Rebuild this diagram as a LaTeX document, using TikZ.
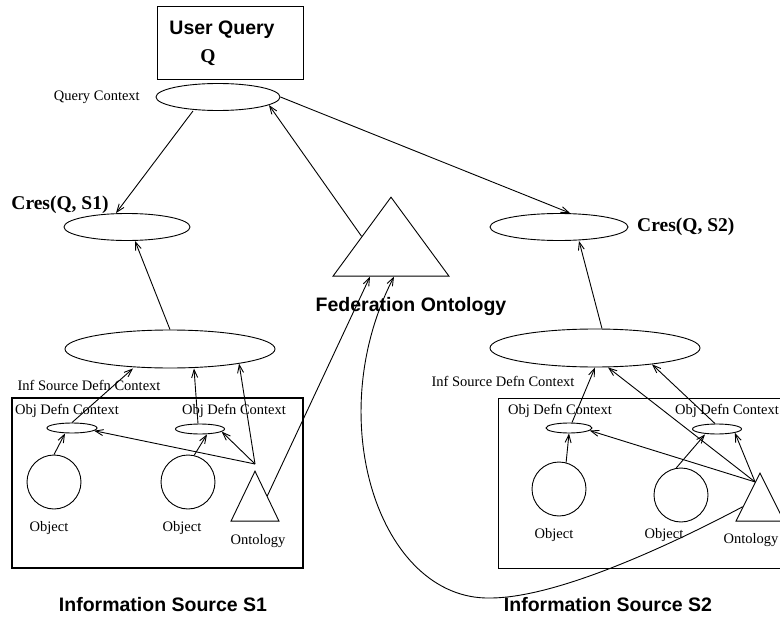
\documentclass[tikz,border=0pt]{standalone}
\usepackage{fontspec}
\setmainfont{Liberation Serif}
\setsansfont{Liberation Sans}
\usetikzlibrary{shapes.geometric,arrows.meta,positioning,calc}

\begin{document}
\begin{tikzpicture}[
    x=1pt, y=-1pt,
    line width=0.9pt,
    ctx/.style   = {draw, ellipse, inner sep=0pt},
    obj/.style   = {draw, circle, minimum size=54pt, inner sep=0pt},
    onto/.style  = {draw, isosceles triangle, shape border rotate=90,
                    isosceles triangle stretches, inner sep=0pt, anchor=apex},
    lbl/.style   = {font=\fontsize{14.5}{16}\selectfont},
    cres/.style  = {font=\fontsize{19.5}{22}\selectfont\bfseries},
    big/.style   = {font=\fontsize{19.5}{22}\selectfont\sffamily\bfseries},
    arr/.style   = {-{Straight Barb[length=8pt,width=6pt]}}
]
\useasboundingbox (0,0) rectangle (780,618);

% query side
\node (uq) [draw, minimum width=146pt, minimum height=73pt] at (230,42.5) {};
\node (uqtxt) [big] at (222,30) {User Query};
\node (uqq) [cres] at (208,58) {Q};
\node (qc) [ctx, minimum width=124pt, minimum height=27pt] at (218,97) {};
\node (qclab) [lbl, left=12pt of qc] {Query Context};
\node (cs1) [ctx, minimum width=126pt, minimum height=27pt] at (127,227) {};
\node (cs1lab) [cres] at (60,205) {Cres(Q, S1)};
\node (cs2) [ctx, minimum width=138pt, minimum height=27pt] at (559,227) {};
\node (cs2lab) [cres, right=5pt of cs2] {Cres(Q, S2)};

% federation
\node (fed) [onto, minimum width=116pt, minimum height=79pt] at (391,196) {};
\node (fedlab) [big] at (411,306) {Federation Ontology};

% source S1
\node (src1) [draw, line width=1.6pt, minimum width=291pt, minimum height=170pt] at (157.5,483) {};
\node (src1lab) [big] at (163,605) {Information Source S1};
\node (is1) [ctx, minimum width=210pt, minimum height=38pt] at (170,349) {};
\node (is1lab) [lbl] at (89,385) {Inf Source Defn Context};
\node (oc1) [ctx, minimum width=50pt, minimum height=10pt] at (72,428) {};
\node (oc2) [ctx, minimum width=49pt, minimum height=10pt] at (200,429) {};
\node (oc1lab) [lbl] at (67,411) {Obj Defn Context};
\node (oc2lab) [lbl] at (234,411) {Obj Defn Context};
\node (ob1) [obj] at (54,482) {};
\node (ob2) [obj] at (188,482) {};
\node (ob1lab) [lbl] at (49,528) {Object};
\node (ob2lab) [lbl] at (182,528) {Object};
\node (on1) [onto, minimum width=48pt, minimum height=50pt] at (255,470) {};
\node (on1lab) [lbl] at (258,541) {Ontology};

% source S2
\node (src2) [draw, minimum width=284pt, minimum height=170pt] at (640,483) {};
\node (src2lab) [big] at (608,605) {Information Source S2};
\node (is2) [ctx, minimum width=210pt, minimum height=38pt] at (595,348) {};
\node (is2lab) [lbl] at (503,381) {Inf Source Defn Context};
\node (oc3) [ctx, minimum width=46pt, minimum height=10pt] at (569,428) {};
\node (oc4) [ctx, minimum width=49pt, minimum height=10pt] at (717,429) {};
\node (oc3lab) [lbl] at (560,411) {Obj Defn Context};
\node (oc4lab) [lbl] at (727,411) {Obj Defn Context};
\node (ob3) [obj] at (559,489) {};
\node (ob4) [obj] at (681,495) {};
\node (ob3lab) [lbl] at (554,535) {Object};
\node (ob4lab) [lbl] at (664,535) {Object};
\node (on2) [onto, minimum width=48pt, minimum height=48pt] at (760,472) {};
\node (on2lab) [lbl] at (751,540) {Ontology};
\coordinate (on2top) at ($(on2.apex)!0.2!(on2.left corner)$);
\coordinate (on2low) at ($(on2.apex)!0.7!(on2.left corner)$);

% query connectors
\draw[arr] ([xshift=-25pt]qc.south) -- ([xshift=-11pt]cs1.north);
\draw[arr] (fed.left side) -- (qc.-9);
\draw[arr] (qc.east) -- ([xshift=11pt]cs2.north);
\draw[arr] (is1.north) -- ([xshift=8pt]cs1.south);
\draw[arr] ([xshift=7pt]is2.north) -- ([xshift=20pt]cs2.south);

% S1 connectors
\draw[arr] (ob1.north) -- ([xshift=-7pt]oc1.south);
\draw[arr] (oc1.north) -- ([xshift=-37pt]is1.south);
\draw[arr] (ob2.77) -- ([xshift=7pt]oc2.south);
\draw[arr] ([xshift=-2pt]oc2.north) -- ([xshift=24pt]is1.south);
\draw[arr] ([yshift=6pt]on1.apex) -- (oc1.-7);
\draw[arr] ([yshift=6pt]on1.apex) -- (oc2.-7);
\draw[arr] ([yshift=6pt]on1.apex) -- (is1.-12);
\draw[arr] (on1.right side) -- ([xshift=-21pt]fed.270);

% S2 connectors
\draw[arr] (ob3.75) -- (oc3.south);
\draw[arr] ([xshift=3pt]oc3.north) -- (is2.south);
\draw[arr] (ob4.100) -- ([xshift=-12pt]oc4.south);
\draw[arr] ([xshift=-2pt]oc4.north) -- (is2.-16);
\draw[arr] (on2top) -- (oc3.-7);
\draw[arr] (on2top) -- (oc4.-12);
\draw[arr] (on2top) -- ([xshift=13pt]is2.south);
\draw[arr] (on2low) .. controls (680,540) and (560,598) .. (490,598)
                    .. controls (380,600) and (320,420) .. ([xshift=3pt]fed.270);
\end{tikzpicture}
\end{document}
